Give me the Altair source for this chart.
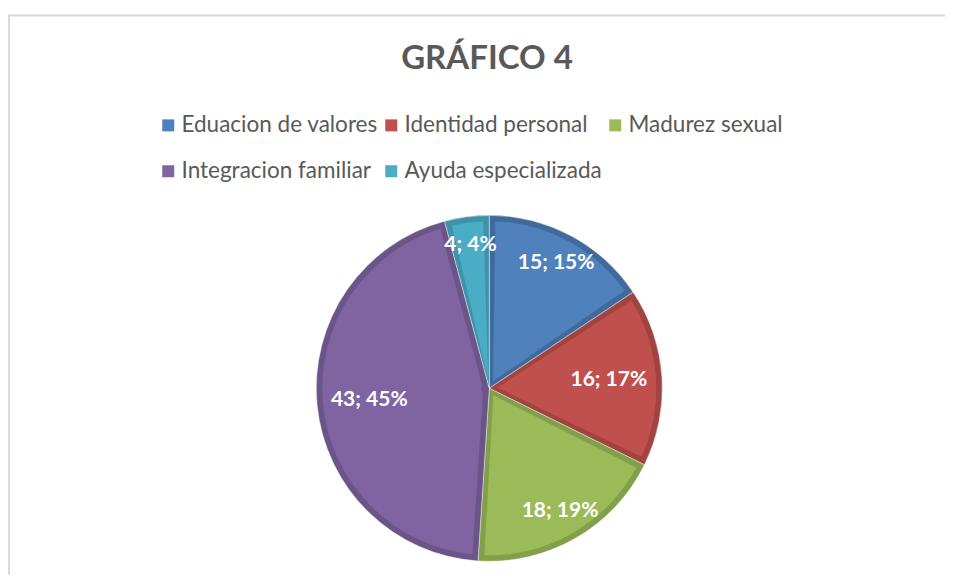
import altair as alt
import pandas as pd

categories = ["Eduacion de valores", "Identidad personal", "Madurez sexual",
              "Integracion familiar", "Ayuda especializada"]
values = [15, 16, 18, 43, 4]
percents = [15, 17, 19, 45, 4]
fill_colors = ["#4F81BD", "#C0504D", "#9BBB59", "#8064A2", "#4BACC6"]
band_colors = ["#416A9C", "#A04341", "#82A04A", "#6B5488", "#3F93A9"]
title_text = "GRÁFICO 4"

W, H = 937, 567
CX, CY, R = 481.3, 380.3, 173
BAND = 6

df = pd.DataFrame({
    "cat": categories,
    "value": values,
    "pct": percents,
    "idx": list(range(len(categories))),
})

base = (
    alt.Chart(df)
    .transform_window(cum="sum(value)", sort=[alt.SortField("idx")], frame=[None, 0])
    .transform_joinaggregate(total="sum(value)")
    .transform_calculate(
        t0="2*PI*(datum.cum - datum.value)/datum.total",
        t1="2*PI*datum.cum/datum.total",
    )
    .transform_calculate(
        tm="(datum.t0 + datum.t1)/2",
        label="datum.value + '; ' + datum.pct + '%'",
    )
    .transform_calculate(rl="118 + 27*abs(cos(datum.tm))")
)

band = base.mark_arc(outerRadius=R, stroke="#ffffff", strokeWidth=0.4).encode(
    theta=alt.Theta("t0:Q", scale=None, stack=False),
    theta2="t1:Q",
    x=alt.value(CX),
    y=alt.value(CY),
    color=alt.Color("cat:N", scale=alt.Scale(domain=categories, range=band_colors), legend=None),
)

inner = base.mark_arc(
    outerRadius=R - BAND, innerRadius=8, padAngle=2 * BAND / (R - BAND)
).encode(
    theta=alt.Theta("t0:Q", scale=None, stack=False),
    theta2="t1:Q",
    x=alt.value(CX),
    y=alt.value(CY),
    color=alt.Color(
        "cat:N",
        scale=alt.Scale(domain=categories, range=fill_colors),
        legend=alt.Legend(
            title=None,
            orient="none",
            legendX=149,
            legendY=106,
            padding=0,
            direction="horizontal",
            columns=3,
            columnPadding=2,
            rowPadding=23,
            symbolType="square",
            symbolSize=144,
            symbolStrokeWidth=0,
            labelFont="Lato",
            labelFontSize=22.5,
            labelColor="#595959",
            labelOffset=2,
            labelLimit=400,
        ),
    ),
)

labels = base.mark_text(
    font="Lato", fontSize=21, fontWeight="bold", color="#ffffff",
    align="center", baseline="middle",
).encode(
    theta=alt.Theta("tm:Q", scale=None, stack=False),
    radius=alt.Radius("rl:Q", scale=None),
    x=alt.value(CX),
    y=alt.value(CY),
    text="label:N",
)

deco = pd.DataFrame({"t": [title_text]})
title = alt.Chart(deco).mark_text(
    font="Lato", fontSize=33, fontWeight="bold", color="#595959",
    align="center", baseline="middle",
).encode(x=alt.value(479), y=alt.value(51), text="t:N")

top_line = alt.Chart(deco).mark_rule(color="#d9d9d9", strokeWidth=2).encode(
    x=alt.value(0), x2=alt.value(W), y=alt.value(7.5)
)
left_line = alt.Chart(deco).mark_rule(color="#d9d9d9", strokeWidth=2).encode(
    x=alt.value(1), y=alt.value(7.5), y2=alt.value(H)
)

chart = (
    alt.layer(top_line, left_line, band, inner, labels, title)
    .resolve_scale(color="independent")
    .properties(width=W, height=H, autosize=alt.AutoSizeParams(type="none"), padding=0)
    .configure_view(stroke=None)
)

chart.save("out.html", embed_options={"renderer": "svg", "actions": False})
